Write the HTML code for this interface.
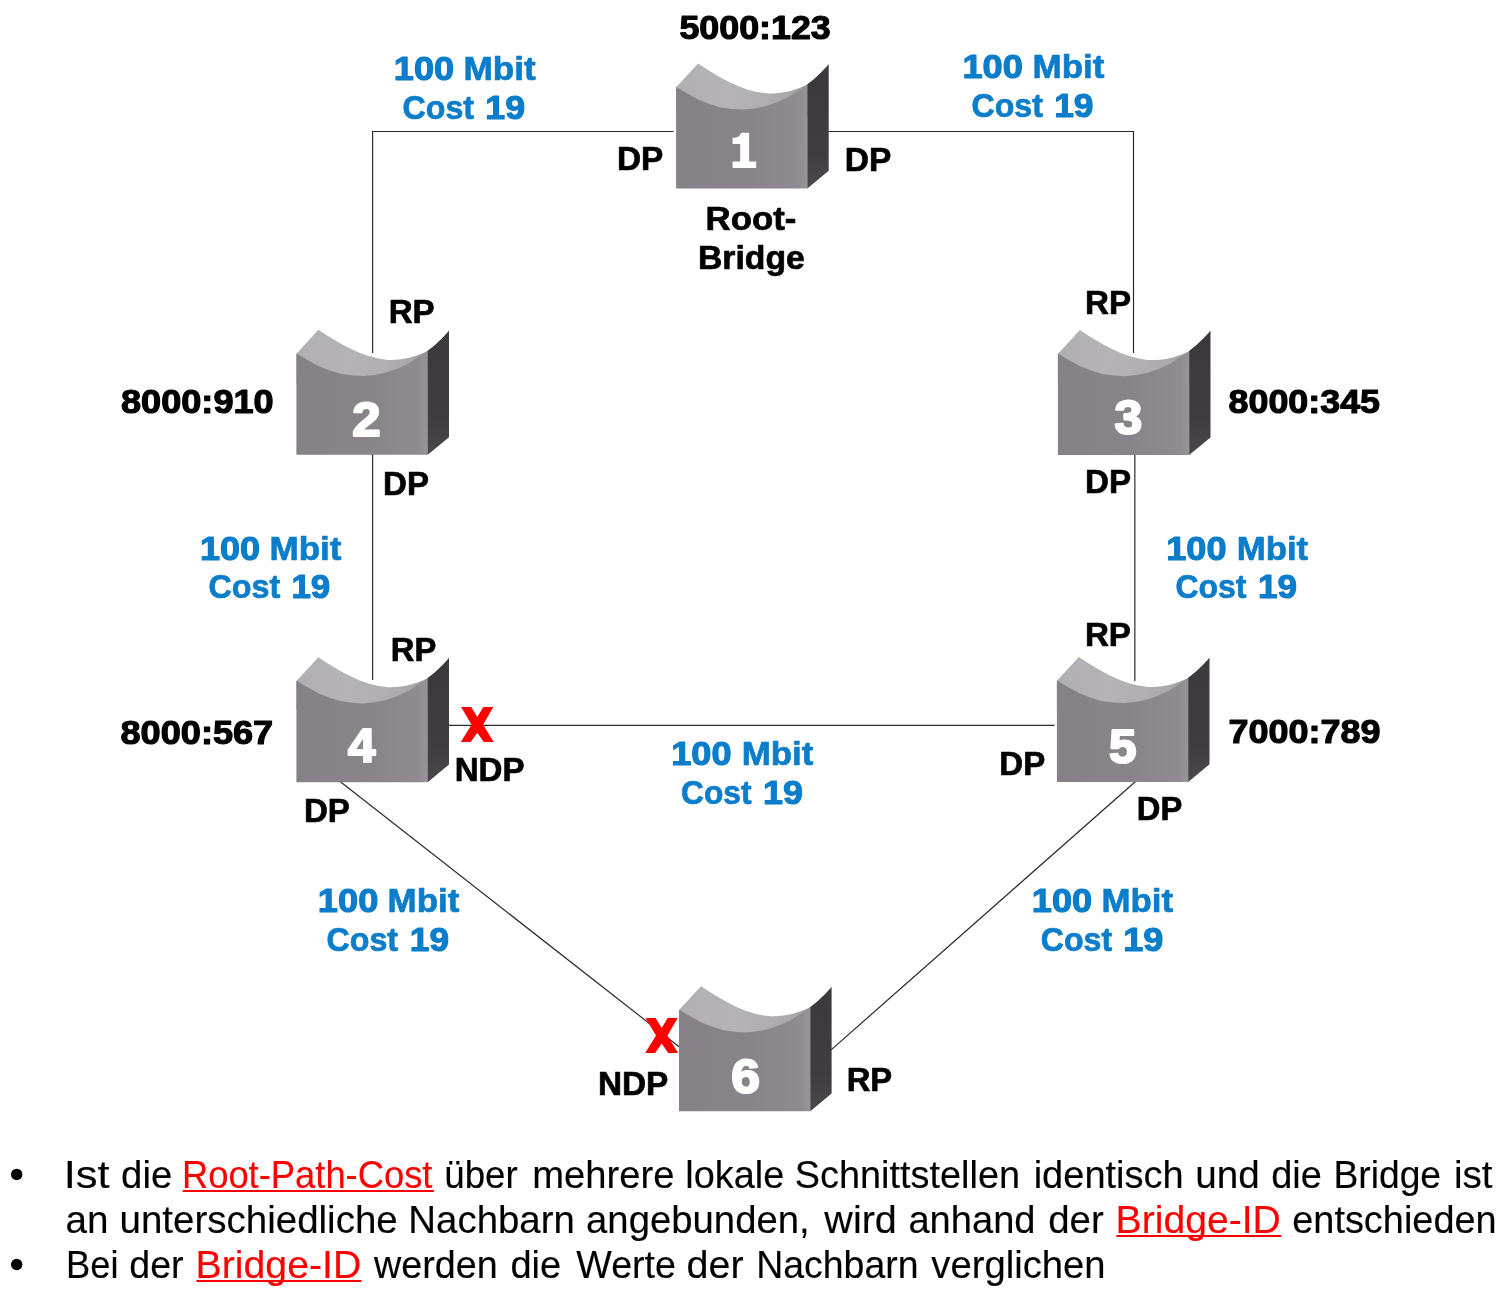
<!DOCTYPE html>
<html><head><meta charset="utf-8"><title>STP</title>
<style>
html,body{margin:0;padding:0;background:#fff;}
body{width:1510px;height:1293px;overflow:hidden;font-family:"Liberation Sans",sans-serif;}
svg{display:block;will-change:transform}
text{font-family:"Liberation Sans",sans-serif;}
.b{font-weight:bold}
</style></head><body>
<svg width="1510" height="1293" viewBox="0 0 1510 1293">
<defs>
<linearGradient id="gf" x1="0" y1="0" x2="1" y2="0"><stop offset="0" stop-color="#858187"/><stop offset="0.55" stop-color="#88848a"/><stop offset="0.93" stop-color="#8f8b91"/><stop offset="1" stop-color="#98949a"/></linearGradient>
<linearGradient id="gt" x1="0" y1="0" x2="1" y2="0"><stop offset="0" stop-color="#b1afb3"/><stop offset="0.4" stop-color="#b5b3b7"/><stop offset="0.7" stop-color="#b0aeb1"/><stop offset="0.88" stop-color="#a8a6a9"/><stop offset="1" stop-color="#979598"/></linearGradient>
<linearGradient id="gs" x1="0" y1="0" x2="0" y2="1"><stop offset="0" stop-color="#3c383e"/><stop offset="0.7" stop-color="#403c42"/><stop offset="1" stop-color="#4b474d"/></linearGradient>
<g id="br">
<path d="M0,0.3 L22,-23.6 C44,-9 66,4 89.6,6.3 C104,7.5 120,3.5 131.5,-2.7 L131.5,30 L0,30 Z" fill="url(#gt)"/>
<path d="M0,0 L10.8,6.3 L22,12.5 L33.3,17 L44.6,20.4 L55.8,22 L67.1,22.6 L78.3,21.5 L89.6,19.2 L100.9,15.3 L112.1,10.2 L123.4,2.9 L131.5,-2.7 L131.5,101.4 L0,101.4 Z" fill="url(#gf)"/>
<path d="M131.3,-2.7 C139,-8.5 147,-16 152.6,-23 L152.6,83.8 L131.3,101.4 Z" fill="url(#gs)"/>
</g>
</defs>
<g fill="none" stroke="#2a2a2a" stroke-width="1.2">
<path d="M673.5,131.5 H372.6 V353"/>
<path d="M372.6,454 V680"/>
<path d="M826,131.5 H1133.5 V353"/>
<path d="M449,725.4 H1054.5"/>
<path d="M340.1,781.5 L679.4,1047"/>
<path d="M1135.8,781.3 L830.5,1050.4"/>
<path d="M1134.8,454 V681" stroke="#606060" stroke-width="1.6"/>
</g>
<use href="#br" x="676.1" y="87.0"/>
<use href="#br" x="296.4" y="353.4"/>
<use href="#br" x="1057.9" y="353.6"/>
<use href="#br" x="296.4" y="680.8"/>
<use href="#br" x="1056.9" y="680.5"/>
<use href="#br" x="679.0" y="1009.8"/>
<text x="352.17" y="436.0" font-size="48.9" class="b" fill="#fff" stroke="#fff" stroke-width="2.2" stroke-linejoin="round" textLength="28.33" lengthAdjust="spacingAndGlyphs">2</text>
<text x="1114.46" y="434.3" font-size="48.9" class="b" fill="#fff" stroke="#fff" stroke-width="2.2" stroke-linejoin="round" textLength="27.74" lengthAdjust="spacingAndGlyphs">3</text>
<text x="347.97" y="761.9" font-size="48.9" class="b" fill="#fff" stroke="#fff" stroke-width="2.2" stroke-linejoin="round" textLength="27.41" lengthAdjust="spacingAndGlyphs">4</text>
<text x="1109.01" y="763.4" font-size="48.9" class="b" fill="#fff" stroke="#fff" stroke-width="2.2" stroke-linejoin="round" textLength="27.46" lengthAdjust="spacingAndGlyphs">5</text>
<text x="731.24" y="1092.9" font-size="48.9" class="b" fill="#fff" stroke="#fff" stroke-width="2.2" stroke-linejoin="round" textLength="28.73" lengthAdjust="spacingAndGlyphs">6</text>
<text x="679.40" y="38.5" font-size="32.9" class="b" fill="#000" stroke="#000" stroke-width="1.1" stroke-linejoin="round" textLength="151.38" lengthAdjust="spacingAndGlyphs">5000:123</text>
<text x="121.02" y="413.2" font-size="32.9" class="b" fill="#000" stroke="#000" stroke-width="1.1" stroke-linejoin="round" textLength="152.63" lengthAdjust="spacingAndGlyphs">8000:910</text>
<text x="1228.53" y="413.2" font-size="32.9" class="b" fill="#000" stroke="#000" stroke-width="1.1" stroke-linejoin="round" textLength="151.53" lengthAdjust="spacingAndGlyphs">8000:345</text>
<text x="120.52" y="744.4" font-size="32.9" class="b" fill="#000" stroke="#000" stroke-width="1.1" stroke-linejoin="round" textLength="152.67" lengthAdjust="spacingAndGlyphs">8000:567</text>
<text x="1228.62" y="742.6" font-size="32.9" class="b" fill="#000" stroke="#000" stroke-width="1.1" stroke-linejoin="round" textLength="151.86" lengthAdjust="spacingAndGlyphs">7000:789</text>
<text x="705.55" y="230.3" font-size="33.5" class="b" fill="#000" stroke="#000" stroke-width="0.7" stroke-linejoin="round" textLength="90.77" lengthAdjust="spacingAndGlyphs">Root-</text>
<text x="697.92" y="268.7" font-size="33.5" class="b" fill="#000" stroke="#000" stroke-width="0.7" stroke-linejoin="round" textLength="106.88" lengthAdjust="spacingAndGlyphs">Bridge</text>
<text x="393.83" y="80.2" font-size="32.9" class="b" fill="#0b7dca" stroke="#0b7dca" stroke-width="1.1" stroke-linejoin="round" textLength="60.23" lengthAdjust="spacingAndGlyphs">100</text>
<text x="463.54" y="80.2" font-size="33.5" class="b" fill="#0b7dca" stroke="#0b7dca" stroke-width="0.7" stroke-linejoin="round" textLength="72.13" lengthAdjust="spacingAndGlyphs">Mbit</text>
<text x="402.51" y="119.0" font-size="33.5" class="b" fill="#0b7dca" stroke="#0b7dca" stroke-width="0.7" stroke-linejoin="round" textLength="71.58" lengthAdjust="spacingAndGlyphs">Cost</text>
<text x="485.36" y="119.0" font-size="32.9" class="b" fill="#0b7dca" stroke="#0b7dca" stroke-width="1.1" stroke-linejoin="round" textLength="39.73" lengthAdjust="spacingAndGlyphs">19</text>
<text x="962.46" y="78.2" font-size="32.9" class="b" fill="#0b7dca" stroke="#0b7dca" stroke-width="1.1" stroke-linejoin="round" textLength="60.36" lengthAdjust="spacingAndGlyphs">100</text>
<text x="1032.53" y="78.2" font-size="33.5" class="b" fill="#0b7dca" stroke="#0b7dca" stroke-width="0.7" stroke-linejoin="round" textLength="71.85" lengthAdjust="spacingAndGlyphs">Mbit</text>
<text x="971.49" y="116.8" font-size="33.5" class="b" fill="#0b7dca" stroke="#0b7dca" stroke-width="0.7" stroke-linejoin="round" textLength="71.50" lengthAdjust="spacingAndGlyphs">Cost</text>
<text x="1054.15" y="116.8" font-size="32.9" class="b" fill="#0b7dca" stroke="#0b7dca" stroke-width="1.1" stroke-linejoin="round" textLength="39.31" lengthAdjust="spacingAndGlyphs">19</text>
<text x="200.07" y="559.8" font-size="32.9" class="b" fill="#0b7dca" stroke="#0b7dca" stroke-width="1.1" stroke-linejoin="round" textLength="60.02" lengthAdjust="spacingAndGlyphs">100</text>
<text x="269.54" y="559.8" font-size="33.5" class="b" fill="#0b7dca" stroke="#0b7dca" stroke-width="0.7" stroke-linejoin="round" textLength="71.91" lengthAdjust="spacingAndGlyphs">Mbit</text>
<text x="208.49" y="598.1" font-size="33.5" class="b" fill="#0b7dca" stroke="#0b7dca" stroke-width="0.7" stroke-linejoin="round" textLength="71.80" lengthAdjust="spacingAndGlyphs">Cost</text>
<text x="291.49" y="598.1" font-size="32.9" class="b" fill="#0b7dca" stroke="#0b7dca" stroke-width="1.1" stroke-linejoin="round" textLength="38.79" lengthAdjust="spacingAndGlyphs">19</text>
<text x="1166.27" y="559.7" font-size="32.9" class="b" fill="#0b7dca" stroke="#0b7dca" stroke-width="1.1" stroke-linejoin="round" textLength="60.27" lengthAdjust="spacingAndGlyphs">100</text>
<text x="1236.75" y="559.7" font-size="33.5" class="b" fill="#0b7dca" stroke="#0b7dca" stroke-width="0.7" stroke-linejoin="round" textLength="71.39" lengthAdjust="spacingAndGlyphs">Mbit</text>
<text x="1175.51" y="598.0" font-size="33.5" class="b" fill="#0b7dca" stroke="#0b7dca" stroke-width="0.7" stroke-linejoin="round" textLength="70.99" lengthAdjust="spacingAndGlyphs">Cost</text>
<text x="1258.07" y="598.0" font-size="32.9" class="b" fill="#0b7dca" stroke="#0b7dca" stroke-width="1.1" stroke-linejoin="round" textLength="38.95" lengthAdjust="spacingAndGlyphs">19</text>
<text x="671.27" y="765.2" font-size="32.9" class="b" fill="#0b7dca" stroke="#0b7dca" stroke-width="1.1" stroke-linejoin="round" textLength="60.27" lengthAdjust="spacingAndGlyphs">100</text>
<text x="741.75" y="765.2" font-size="33.5" class="b" fill="#0b7dca" stroke="#0b7dca" stroke-width="0.7" stroke-linejoin="round" textLength="71.61" lengthAdjust="spacingAndGlyphs">Mbit</text>
<text x="681.01" y="803.7" font-size="33.5" class="b" fill="#0b7dca" stroke="#0b7dca" stroke-width="0.7" stroke-linejoin="round" textLength="70.49" lengthAdjust="spacingAndGlyphs">Cost</text>
<text x="762.95" y="803.7" font-size="32.9" class="b" fill="#0b7dca" stroke="#0b7dca" stroke-width="1.1" stroke-linejoin="round" textLength="39.91" lengthAdjust="spacingAndGlyphs">19</text>
<text x="317.89" y="912.2" font-size="32.9" class="b" fill="#0b7dca" stroke="#0b7dca" stroke-width="1.1" stroke-linejoin="round" textLength="60.42" lengthAdjust="spacingAndGlyphs">100</text>
<text x="387.64" y="912.2" font-size="33.5" class="b" fill="#0b7dca" stroke="#0b7dca" stroke-width="0.7" stroke-linejoin="round" textLength="71.72" lengthAdjust="spacingAndGlyphs">Mbit</text>
<text x="326.50" y="950.9" font-size="33.5" class="b" fill="#0b7dca" stroke="#0b7dca" stroke-width="0.7" stroke-linejoin="round" textLength="71.58" lengthAdjust="spacingAndGlyphs">Cost</text>
<text x="409.87" y="950.9" font-size="32.9" class="b" fill="#0b7dca" stroke="#0b7dca" stroke-width="1.1" stroke-linejoin="round" textLength="39.12" lengthAdjust="spacingAndGlyphs">19</text>
<text x="1031.83" y="912.2" font-size="32.9" class="b" fill="#0b7dca" stroke="#0b7dca" stroke-width="1.1" stroke-linejoin="round" textLength="60.23" lengthAdjust="spacingAndGlyphs">100</text>
<text x="1101.56" y="912.2" font-size="33.5" class="b" fill="#0b7dca" stroke="#0b7dca" stroke-width="0.7" stroke-linejoin="round" textLength="71.57" lengthAdjust="spacingAndGlyphs">Mbit</text>
<text x="1040.78" y="950.9" font-size="33.5" class="b" fill="#0b7dca" stroke="#0b7dca" stroke-width="0.7" stroke-linejoin="round" textLength="71.33" lengthAdjust="spacingAndGlyphs">Cost</text>
<text x="1123.32" y="950.9" font-size="32.9" class="b" fill="#0b7dca" stroke="#0b7dca" stroke-width="1.1" stroke-linejoin="round" textLength="40.06" lengthAdjust="spacingAndGlyphs">19</text>
<text x="616.92" y="169.7" font-size="33.5" class="b" fill="#000" stroke="#000" stroke-width="0.7" stroke-linejoin="round" textLength="46.37" lengthAdjust="spacingAndGlyphs">DP</text>
<text x="844.68" y="171.2" font-size="33.5" class="b" fill="#000" stroke="#000" stroke-width="0.7" stroke-linejoin="round" textLength="46.58" lengthAdjust="spacingAndGlyphs">DP</text>
<text x="388.73" y="323.1" font-size="33.5" class="b" fill="#000" stroke="#000" stroke-width="0.7" stroke-linejoin="round" textLength="45.98" lengthAdjust="spacingAndGlyphs">RP</text>
<text x="1085.07" y="313.8" font-size="33.5" class="b" fill="#000" stroke="#000" stroke-width="0.7" stroke-linejoin="round" textLength="46.03" lengthAdjust="spacingAndGlyphs">RP</text>
<text x="383.07" y="494.9" font-size="33.5" class="b" fill="#000" stroke="#000" stroke-width="0.7" stroke-linejoin="round" textLength="45.82" lengthAdjust="spacingAndGlyphs">DP</text>
<text x="1085.07" y="493.2" font-size="33.5" class="b" fill="#000" stroke="#000" stroke-width="0.7" stroke-linejoin="round" textLength="46.03" lengthAdjust="spacingAndGlyphs">DP</text>
<text x="390.87" y="660.5" font-size="33.5" class="b" fill="#000" stroke="#000" stroke-width="0.7" stroke-linejoin="round" textLength="45.49" lengthAdjust="spacingAndGlyphs">RP</text>
<text x="1084.92" y="645.8" font-size="33.5" class="b" fill="#000" stroke="#000" stroke-width="0.7" stroke-linejoin="round" textLength="46.11" lengthAdjust="spacingAndGlyphs">RP</text>
<text x="454.65" y="780.9" font-size="33.5" class="b" fill="#000" stroke="#000" stroke-width="0.7" stroke-linejoin="round" textLength="69.89" lengthAdjust="spacingAndGlyphs">NDP</text>
<text x="999.32" y="774.9" font-size="33.5" class="b" fill="#000" stroke="#000" stroke-width="0.7" stroke-linejoin="round" textLength="45.90" lengthAdjust="spacingAndGlyphs">DP</text>
<text x="303.92" y="821.6" font-size="33.5" class="b" fill="#000" stroke="#000" stroke-width="0.7" stroke-linejoin="round" textLength="45.95" lengthAdjust="spacingAndGlyphs">DP</text>
<text x="1136.85" y="820.1" font-size="33.5" class="b" fill="#000" stroke="#000" stroke-width="0.7" stroke-linejoin="round" textLength="45.52" lengthAdjust="spacingAndGlyphs">DP</text>
<text x="597.99" y="1095.2" font-size="33.5" class="b" fill="#000" stroke="#000" stroke-width="0.7" stroke-linejoin="round" textLength="70.37" lengthAdjust="spacingAndGlyphs">NDP</text>
<text x="846.67" y="1090.8" font-size="33.5" class="b" fill="#000" stroke="#000" stroke-width="0.7" stroke-linejoin="round" textLength="45.52" lengthAdjust="spacingAndGlyphs">RP</text>
<text x="63.75" y="1188.0" font-size="38.5" fill="#000" stroke="#000" stroke-width="0.15" stroke-linejoin="round" textLength="45.96" lengthAdjust="spacingAndGlyphs">Ist</text>
<text x="121.10" y="1188.0" font-size="38.5" fill="#000" stroke="#000" stroke-width="0.15" stroke-linejoin="round" textLength="51.16" lengthAdjust="spacingAndGlyphs">die</text>
<text x="181.95" y="1188.0" font-size="38.5" fill="#ff0000" stroke="#ff0000" stroke-width="0.15" stroke-linejoin="round" textLength="250.51" lengthAdjust="spacingAndGlyphs">Root-Path-Cost</text>
<text x="444.26" y="1188.0" font-size="38.5" fill="#000" stroke="#000" stroke-width="0.15" stroke-linejoin="round" textLength="73.35" lengthAdjust="spacingAndGlyphs">über</text>
<text x="532.32" y="1188.0" font-size="38.5" fill="#000" stroke="#000" stroke-width="0.15" stroke-linejoin="round" textLength="142.21" lengthAdjust="spacingAndGlyphs">mehrere</text>
<text x="685.36" y="1188.0" font-size="38.5" fill="#000" stroke="#000" stroke-width="0.15" stroke-linejoin="round" textLength="98.98" lengthAdjust="spacingAndGlyphs">lokale</text>
<text x="794.74" y="1188.0" font-size="38.5" fill="#000" stroke="#000" stroke-width="0.15" stroke-linejoin="round" textLength="225.30" lengthAdjust="spacingAndGlyphs">Schnittstellen</text>
<text x="1033.68" y="1188.0" font-size="38.5" fill="#000" stroke="#000" stroke-width="0.15" stroke-linejoin="round" textLength="150.04" lengthAdjust="spacingAndGlyphs">identisch</text>
<text x="1195.21" y="1188.0" font-size="38.5" fill="#000" stroke="#000" stroke-width="0.15" stroke-linejoin="round" textLength="64.44" lengthAdjust="spacingAndGlyphs">und</text>
<text x="1271.22" y="1188.0" font-size="38.5" fill="#000" stroke="#000" stroke-width="0.15" stroke-linejoin="round" textLength="50.66" lengthAdjust="spacingAndGlyphs">die</text>
<text x="1333.45" y="1188.0" font-size="38.5" fill="#000" stroke="#000" stroke-width="0.15" stroke-linejoin="round" textLength="107.64" lengthAdjust="spacingAndGlyphs">Bridge</text>
<text x="1453.88" y="1188.0" font-size="38.5" fill="#000" stroke="#000" stroke-width="0.15" stroke-linejoin="round" textLength="38.63" lengthAdjust="spacingAndGlyphs">ist</text>
<text x="65.57" y="1232.9" font-size="38.5" fill="#000" stroke="#000" stroke-width="0.15" stroke-linejoin="round" textLength="43.04" lengthAdjust="spacingAndGlyphs">an</text>
<text x="119.55" y="1232.9" font-size="38.5" fill="#000" stroke="#000" stroke-width="0.15" stroke-linejoin="round" textLength="278.19" lengthAdjust="spacingAndGlyphs">unterschiedliche</text>
<text x="408.36" y="1232.9" font-size="38.5" fill="#000" stroke="#000" stroke-width="0.15" stroke-linejoin="round" textLength="166.51" lengthAdjust="spacingAndGlyphs">Nachbarn</text>
<text x="586.08" y="1232.9" font-size="38.5" fill="#000" stroke="#000" stroke-width="0.15" stroke-linejoin="round" textLength="223.58" lengthAdjust="spacingAndGlyphs">angebunden,</text>
<text x="824.32" y="1232.9" font-size="38.5" fill="#000" stroke="#000" stroke-width="0.15" stroke-linejoin="round" textLength="72.54" lengthAdjust="spacingAndGlyphs">wird</text>
<text x="908.39" y="1232.9" font-size="38.5" fill="#000" stroke="#000" stroke-width="0.15" stroke-linejoin="round" textLength="127.16" lengthAdjust="spacingAndGlyphs">anhand</text>
<text x="1048.18" y="1232.9" font-size="38.5" fill="#000" stroke="#000" stroke-width="0.15" stroke-linejoin="round" textLength="55.54" lengthAdjust="spacingAndGlyphs">der</text>
<text x="1115.57" y="1232.9" font-size="38.5" fill="#ff0000" stroke="#ff0000" stroke-width="0.15" stroke-linejoin="round" textLength="165.30" lengthAdjust="spacingAndGlyphs">Bridge-ID</text>
<text x="1292.22" y="1232.9" font-size="38.5" fill="#000" stroke="#000" stroke-width="0.15" stroke-linejoin="round" textLength="204.43" lengthAdjust="spacingAndGlyphs">entschieden</text>
<text x="66.12" y="1277.8" font-size="38.5" fill="#000" stroke="#000" stroke-width="0.15" stroke-linejoin="round" textLength="52.40" lengthAdjust="spacingAndGlyphs">Bei</text>
<text x="129.26" y="1277.8" font-size="38.5" fill="#000" stroke="#000" stroke-width="0.15" stroke-linejoin="round" textLength="54.27" lengthAdjust="spacingAndGlyphs">der</text>
<text x="195.56" y="1277.8" font-size="38.5" fill="#ff0000" stroke="#ff0000" stroke-width="0.15" stroke-linejoin="round" textLength="165.76" lengthAdjust="spacingAndGlyphs">Bridge-ID</text>
<text x="374.03" y="1277.8" font-size="38.5" fill="#000" stroke="#000" stroke-width="0.15" stroke-linejoin="round" textLength="123.67" lengthAdjust="spacingAndGlyphs">werden</text>
<text x="510.41" y="1277.8" font-size="38.5" fill="#000" stroke="#000" stroke-width="0.15" stroke-linejoin="round" textLength="50.75" lengthAdjust="spacingAndGlyphs">die</text>
<text x="576.32" y="1277.8" font-size="38.5" fill="#000" stroke="#000" stroke-width="0.15" stroke-linejoin="round" textLength="99.65" lengthAdjust="spacingAndGlyphs">Werte</text>
<text x="686.62" y="1277.8" font-size="38.5" fill="#000" stroke="#000" stroke-width="0.15" stroke-linejoin="round" textLength="57.06" lengthAdjust="spacingAndGlyphs">der</text>
<text x="756.22" y="1277.8" font-size="38.5" fill="#000" stroke="#000" stroke-width="0.15" stroke-linejoin="round" textLength="162.33" lengthAdjust="spacingAndGlyphs">Nachbarn</text>
<text x="931.34" y="1277.8" font-size="38.5" fill="#000" stroke="#000" stroke-width="0.15" stroke-linejoin="round" textLength="174.30" lengthAdjust="spacingAndGlyphs">verglichen</text>
<path d="M740.2,132.8 H749.1 V161.5 H756.2 V167.9 H732.6 V161.5 H740.2 V143.9 H732.6 V137.9 C737,137.9 740.2,136.5 741.1,132.8 Z" fill="#fff"/>
<path id="xx" d="M461.1,707 L471.2,707 L477.3,717.1 L483.3,707 L493.3,707 L483.1,724.7 L493.7,742.1 L483.8,742.1 L477.3,732.7 L470.7,742.1 L460.8,742.1 L471.6,724.7 Z" fill="#ff0000"/>
<use href="#xx" x="184.4" y="310.9"/>
<circle cx="16.7" cy="1174.4" r="5.7" fill="#000"/>
<circle cx="16.7" cy="1264.5" r="5.7" fill="#000"/>
<g stroke="#ff0000" stroke-width="2">
<path d="M182.7,1191.0 H433.9"/>
<path d="M1116.4,1236.0 H1281.2"/>
<path d="M196.4,1281.0 H361.4"/>
</g>
</svg></body></html>
